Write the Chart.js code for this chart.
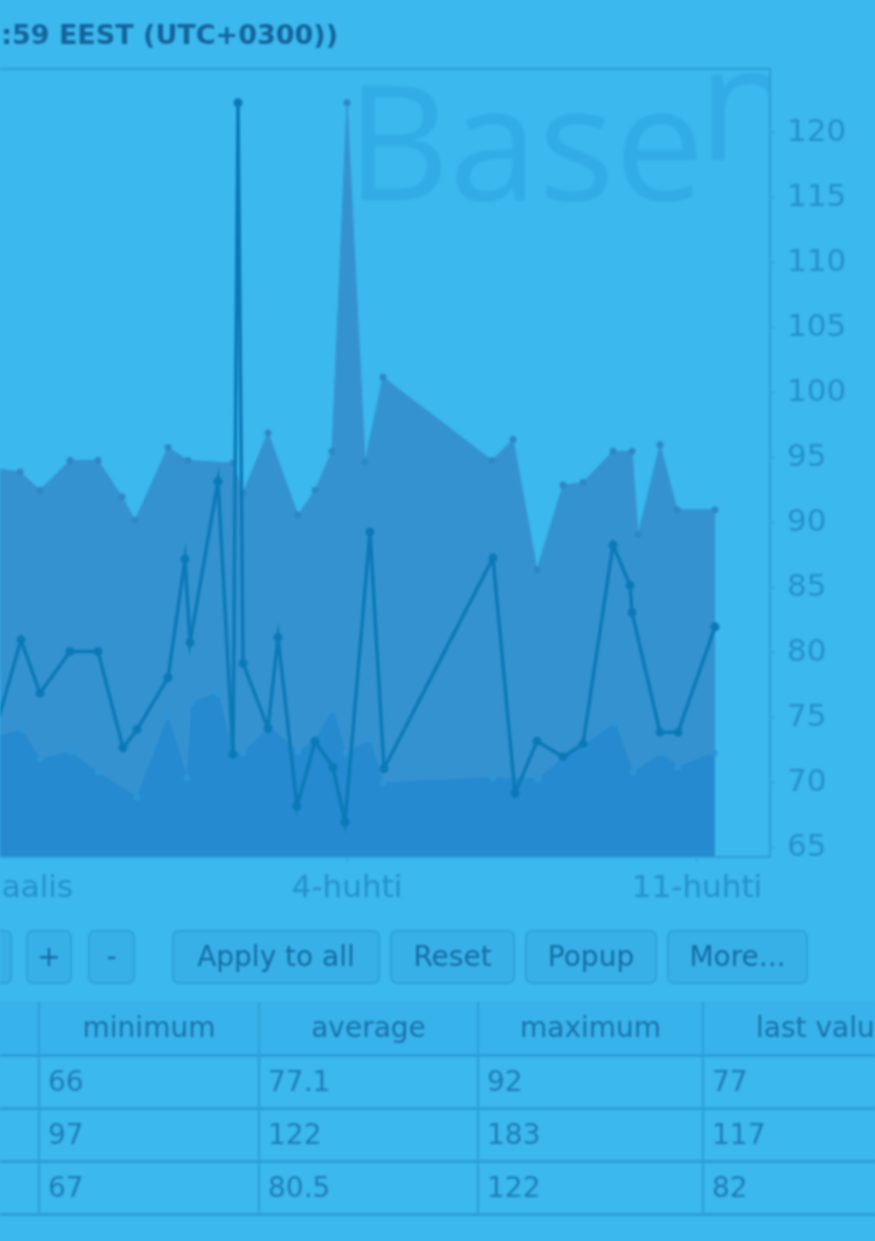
<!DOCTYPE html>
<html>
<head>
<meta charset="utf-8">
<script src="https://cdn.jsdelivr.net/npm/chart.js@4/dist/chart.umd.min.js"></script>
<style>
  html, body { margin: 0; padding: 0; background: #3bb8ee; width: 875px; height: 1241px; overflow: hidden; }
  #page { position: relative; width: 875px; height: 1241px; overflow: hidden; filter: blur(1.1px); font-family: "DejaVu Sans", sans-serif; }
  #title { position: absolute; right: 537px; top: 19px; white-space: nowrap; font-weight: bold; font-size: 27px; color: #15649b; }
  #chart-box { position: absolute; left: -120px; top: 60px; width: 995px; height: 857px; }
  .btn { position: absolute; top: 930px; height: 54px; box-sizing: border-box; border: 2px solid #2ea2da; border-radius: 7px;
         background: #37b0e8; color: #176ba3; font-size: 28px; line-height: 50px; text-align: center; }
  #stats { position: absolute; left: -182px; top: 1002px; width: 1104px; table-layout: fixed; border-collapse: collapse;
           font-size: 28px; color: #1f7cb6; }
  #stats th, #stats td { border-left: 2px solid #2b9fd8; border-right: 2px solid #2b9fd8; border-bottom: 3px solid #2b9fd8;
         height: 53px; padding: 0 8px; box-sizing: border-box; overflow: hidden; white-space: nowrap; }
  #stats th { font-weight: normal; text-align: center; background: #38b2ea; color: #1a72ab; }
  #stats td { text-align: left; }
</style>
</head>
<body>
<div id="page">
  <div id="title">23:59:59 EEST (UTC+0300))</div>
  <div id="chart-box"><canvas id="chart"></canvas></div>

  <div class="btn" style="left:-60px;width:72px;"></div>
  <div class="btn" style="left:26px;width:46px;">+</div>
  <div class="btn" style="left:88px;width:47px;">-</div>
  <div class="btn" style="left:172px;width:208px;">Apply to all</div>
  <div class="btn" style="left:390px;width:125px;">Reset</div>
  <div class="btn" style="left:525px;width:132px;">Popup</div>
  <div class="btn" style="left:667px;width:141px;">More...</div>

  <table id="stats">
    <colgroup>
      <col style="width:220px;"><col style="width:220px;"><col style="width:219px;"><col style="width:225px;"><col style="width:420px;">
    </colgroup>
    <thead>
      <tr><th></th><th>minimum</th><th>average</th><th>maximum</th><th style="text-align:left;padding-left:52px;">last value</th></tr>
    </thead>
    <tbody id="stats-body"></tbody>
  </table>
</div>

<script>
// x values are days counted from 28-maalis 00:00
const dayTicks = [0, 7, 14];
const dayTickLabels = ["28-maalis", "4-huhti", "11-huhti"];
const valueTicks = [65, 70, 75, 80, 85, 90, 95, 100, 105, 110, 115, 120];

// upper filled area
const upperDays = [-0.06, 0.46, 0.86, 1.46, 2.02, 2.50, 2.76, 3.42, 3.82, 4.72, 4.92, 5.42, 6.02, 6.36, 6.70,
  7.00, 7.36, 7.72, 9.90, 10.32, 10.80, 11.32, 11.72, 12.32, 12.70, 12.82, 13.26, 13.60, 14.36];
const upperValues = [94.2, 93.9, 92.5, 94.8, 94.8, 92.0, 90.2, 95.8, 94.8, 94.6, 92.3, 96.9, 90.6, 92.5, 95.5,
  122.3, 94.7, 101.2, 94.8, 96.4, 86.4, 92.9, 93.1, 95.5, 95.5, 89.1, 96.0, 91.0, 91.0];

// lower filled area
const lowerDays = [-0.06, 0.50, 0.86, 1.46, 2.02, 2.80, 3.42, 3.80, 3.90, 4.42, 4.72, 4.92, 5.46, 6.02,
  6.36, 6.72, 6.98, 7.46, 7.72, 9.92, 10.82, 11.32, 11.72, 12.36, 12.72, 13.30, 13.62, 14.34];
const lowerValues = [73.5, 74.1, 71.8, 72.4, 70.8, 68.9, 75.1, 70.4, 76.2, 76.9, 72.3, 72.3, 74.3, 72.4,
  73.3, 75.6, 72.3, 73.3, 70.0, 70.4, 70.3, 71.9, 72.8, 74.6, 70.8, 72.3, 71.2, 72.3];

// line series
const lineDays = [-0.06, 0.48, 0.86, 1.46, 2.02, 2.52, 2.80, 3.42, 3.76, 3.86, 4.42, 4.72, 4.82, 4.92, 5.42,
  5.62, 6.00, 6.36, 6.72, 6.96, 7.46, 7.74, 9.92, 10.36, 10.80, 11.32, 11.72, 12.32, 12.66, 12.70, 13.26, 13.62, 14.36];
const lineValues = [73.7, 81.0, 76.9, 80.1, 80.1, 72.7, 74.1, 78.1, 87.2, 80.8, 93.2, 72.2, 122.3, 79.2, 74.2,
  81.2, 68.2, 73.2, 71.2, 67.0, 89.3, 71.1, 87.3, 69.2, 73.2, 72.0, 73.0, 88.3, 85.2, 83.1, 73.9, 73.9, 82.0];

// summary table
const statMinimum = ["66", "97", "67"];
const statAverage = ["77.1", "122", "80.5"];
const statMaximum = ["92", "183", "122"];
const statLast = ["77", "117", "82"];

function toPoints(days, values) {
  return days.map((d, i) => ({ x: d, y: values[i] }));
}

const tbody = document.getElementById("stats-body");
statMinimum.forEach((v, i) => {
  const tr = document.createElement("tr");
  ["", v, statAverage[i], statMaximum[i], statLast[i]].forEach(text => {
    const td = document.createElement("td");
    td.textContent = text;
    tr.appendChild(td);
  });
  tbody.appendChild(tr);
});

const tickColor = "#2590cc";
const edgeColor = "#2b9fd8";

const watermark = {
  id: "watermark",
  beforeDatasetsDraw(chart) {
    const { ctx, chartArea } = chart;
    ctx.save();
    ctx.beginPath();
    ctx.rect(chartArea.left, chartArea.top, chartArea.right - chartArea.left, chartArea.bottom - chartArea.top);
    ctx.clip();
    ctx.fillStyle = "#32ace5";
    ctx.font = '400 160px "Open Sans", sans-serif';
    ctx.textBaseline = "alphabetic";
    ctx.fillText("Base", chartArea.left + 346, chartArea.top + 131);
    ctx.fillText("n", chartArea.left + 698, chartArea.top + 91);
    ctx.restore();
  }
};

const frame = {
  id: "frame",
  afterDraw(chart) {
    const { ctx, chartArea } = chart;
    ctx.save();
    ctx.strokeStyle = edgeColor;
    ctx.lineWidth = 2;
    ctx.beginPath();
    ctx.moveTo(0, chartArea.top);
    ctx.lineTo(chartArea.right, chartArea.top);
    ctx.lineTo(chartArea.right, chartArea.bottom);
    ctx.lineTo(0, chartArea.bottom);
    ctx.stroke();
    ctx.restore();
  }
};

new Chart(document.getElementById("chart").getContext("2d"), {
  type: "line",
  data: {
    datasets: [
      {
        label: "line",
        data: toPoints(lineDays, lineValues),
        order: 0,
        fill: false,
        borderColor: "#0a7ab7",
        borderWidth: 3.5,
        pointRadius: 4.5,
        pointBackgroundColor: "#0a7ab7",
        pointBorderWidth: 0,
        tension: 0,
      },
      {
        label: "lower",
        data: toPoints(lowerDays, lowerValues),
        order: 1,
        fill: "start",
        backgroundColor: "#258ad0",
        borderColor: "#258ad0",
        borderWidth: 1,
        pointRadius: 3.5,
        pointBackgroundColor: "#2c95d8",
        pointBorderWidth: 0,
        tension: 0,
      },
      {
        label: "upper",
        data: toPoints(upperDays, upperValues),
        order: 2,
        fill: "start",
        backgroundColor: "#3592d0",
        borderColor: "#3592d0",
        borderWidth: 1,
        pointRadius: 3.5,
        pointBackgroundColor: "#2f87c5",
        pointBorderWidth: 0,
        tension: 0,
      },
    ],
  },
  options: {
    responsive: true,
    maintainAspectRatio: false,
    animation: false,
    layout: { padding: { left: 120, top: 9, right: 0, bottom: 0 } },
    plugins: {
      legend: { display: false },
      tooltip: { enabled: false },
    },
    scales: {
      x: {
        type: "linear",
        min: 0.06,
        max: 15.46,
        afterBuildTicks: scale => { scale.ticks = dayTicks.map(v => ({ value: v })); },
        afterFit: scale => { scale.height = 60; scale.paddingLeft = 0; scale.paddingRight = 0; },
        grid: { drawOnChartArea: false, tickLength: 5, color: edgeColor },
        border: { display: false },
        ticks: {
          autoSkip: false,
          maxRotation: 0,
          padding: 8,
          color: tickColor,
          font: { family: "DejaVu Sans", size: 31 },
          callback: value => dayTickLabels[dayTicks.indexOf(value)],
        },
      },
      y: {
        position: "right",
        min: 64.3,
        max: 124.9,
        afterBuildTicks: scale => { scale.ticks = valueTicks.map(v => ({ value: v })); },
        afterFit: scale => { scale.width = 105; scale.paddingTop = 0; scale.paddingBottom = 0; },
        grid: { drawOnChartArea: false, tickLength: 5, color: edgeColor },
        border: { display: false },
        ticks: {
          padding: 12,
          color: tickColor,
          font: { family: "DejaVu Sans", size: 31 },
        },
      },
    },
  },
  plugins: [watermark, frame],
});
</script>
</body>
</html>
